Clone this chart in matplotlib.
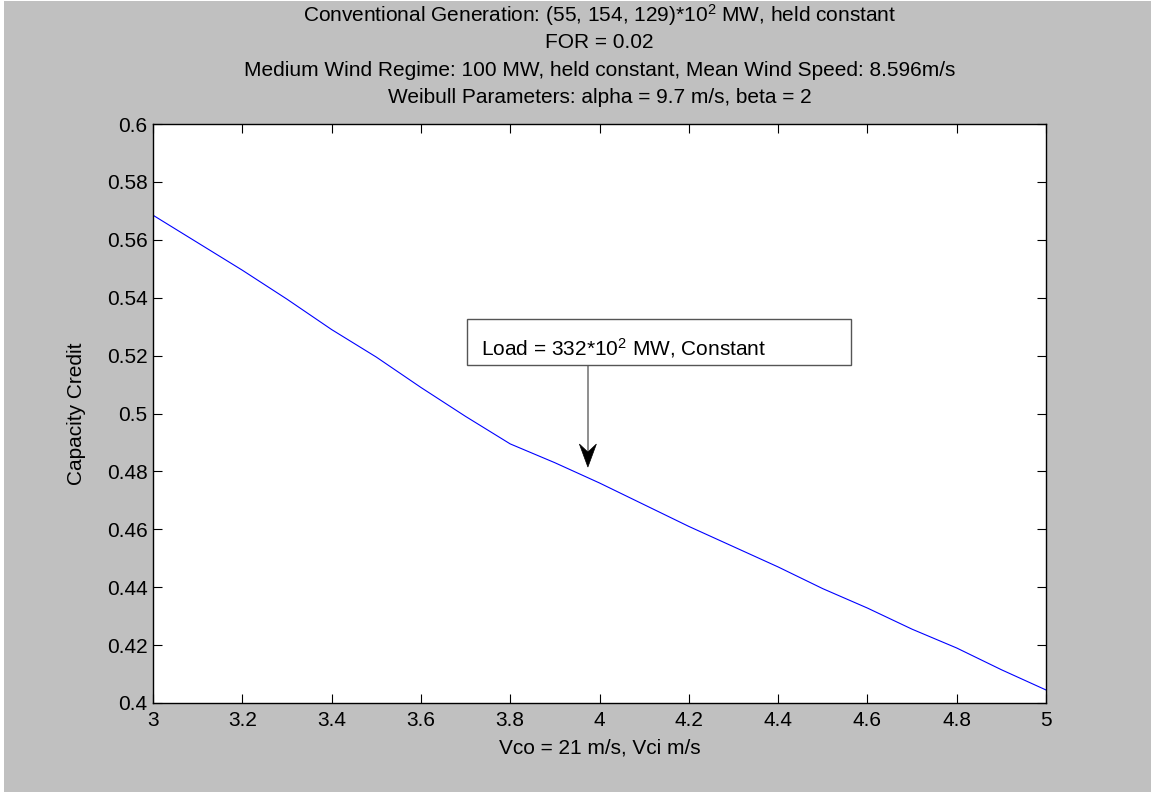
"""
Capacity credit vs cut-in wind speed (MATLAB-style figure).
"""

import matplotlib
matplotlib.use('Agg')

import matplotlib.pyplot as plt
import matplotlib.transforms as mtransforms
from matplotlib.patches import Rectangle, Polygon

plt.rcParams['font.family'] = ['Liberation Sans', 'DejaVu Sans']
plt.rcParams['mathtext.fontset'] = 'custom'
plt.rcParams['mathtext.rm'] = 'Liberation Sans'
plt.rcParams['mathtext.default'] = 'regular'

# --- data ---
vci = [3.0, 3.1, 3.2, 3.3, 3.4, 3.5, 3.6, 3.7, 3.8, 3.9, 4.0,
       4.1, 4.2, 4.3, 4.4, 4.5, 4.6, 4.7, 4.8, 4.9, 5.0]
capacity_credit = [0.5685, 0.5590, 0.5495, 0.5395, 0.5290, 0.5195, 0.5090,
                   0.4990, 0.4895, 0.4830, 0.4760, 0.4685, 0.4610, 0.4540,
                   0.4470, 0.4395, 0.4328, 0.4255, 0.4190, 0.4115, 0.4045]

x_ticks = [3, 3.2, 3.4, 3.6, 3.8, 4, 4.2, 4.4, 4.6, 4.8, 5]
x_ticklabels = ['3', '3.2', '3.4', '3.6', '3.8', '4', '4.2', '4.4', '4.6', '4.8', '5']
y_ticks = [0.4, 0.42, 0.44, 0.46, 0.48, 0.5, 0.52, 0.54, 0.56, 0.58, 0.6]
y_ticklabels = ['0.4', '0.42', '0.44', '0.46', '0.48', '0.5', '0.52', '0.54', '0.56', '0.58', '0.6']

title_lines = [
    'Conventional Generation: (55, 154, 129)*10$^2$ MW, held constant',
    'FOR = 0.02',
    'Medium Wind Regime: 100 MW, held constant, Mean Wind Speed: 8.596m/s',
    'Weibull Parameters: alpha = 9.7 m/s, beta = 2',
]
annot_text = 'Load = 332*10$^2$ MW, Constant'

# annotation placement (data units)
BOX_X0, BOX_X1 = 3.703, 4.563
BOX_Y0, BOX_Y1 = 0.5168, 0.5326
ARROW_X, ARROW_TIP_Y = 3.974, 0.4815

FS = 15
W, H = 1151, 792
fig = plt.figure(figsize=(W / 100, H / 100), dpi=100)
fig.patch.set_facecolor('white')
fig.patches.append(Rectangle((4 / W, 0), 1, 1 - 1 / H, transform=fig.transFigure,
                             facecolor='#c0c0c0', edgecolor='none', zorder=-10))

# axes box: left 153, right 1046, top 124, bottom 703 (pixels)
ax = fig.add_axes([153 / W, (H - 703) / H, (1046 - 153) / W, (703 - 124) / H])
ax.set_facecolor('white')

ax.plot(vci, capacity_credit, color='#0000ff', linewidth=0.8)

ax.set_xlim(3, 5)
ax.set_ylim(0.4, 0.6)
ax.set_xticks(x_ticks)
ax.set_xticklabels(x_ticklabels)
ax.set_yticks(y_ticks)
ax.set_yticklabels(y_ticklabels)
ax.tick_params(direction='in', length=6.5, width=0.8, labelsize=FS,
               top=True, right=True, pad=4)
ax.tick_params(axis='x', pad=6)
for sp in ax.spines.values():
    sp.set_linewidth(1.0)

ax.set_xlabel('Vco = 21 m/s, Vci m/s', fontsize=FS)
ax.xaxis.set_label_coords(0.5, (703 - 748) / 579)
ax.xaxis.label.set_va('center')
ax.set_ylabel('Capacity Credit', fontsize=FS)
ax.yaxis.set_label_coords((77 - 153) / 893, 0.5)
ax.yaxis.label.set_va('center')

# stacked title lines above the axes
for i, line in enumerate(title_lines):
    fig.text(599.5 / W, 1 - (15 + 27.6 * i) / H, line, ha='center', va='center',
             fontsize=FS)

# annotation: text box
ax.add_patch(Rectangle((BOX_X0, BOX_Y0), BOX_X1 - BOX_X0, BOX_Y1 - BOX_Y0,
                       facecolor='white', edgecolor='#555555', lw=1.0, zorder=5))
ax.text(3.734, 0.5226, annot_text, fontsize=FS, va='center', ha='left', zorder=6)

# arrow shaft (gray) and notched black head
ax.plot([ARROW_X, ARROW_X], [BOX_Y0, ARROW_TIP_Y + 0.004], color='#707070',
        lw=1.1, zorder=4, solid_capstyle='butt')
head = [(0, 0), (0.085, 0.23), (0, 0.15), (-0.085, 0.23)]  # inches
head_trans = fig.dpi_scale_trans + mtransforms.ScaledTranslation(
    ARROW_X, ARROW_TIP_Y, ax.transData)
ax.add_patch(Polygon(head, closed=True, facecolor='black', edgecolor='black',
                     lw=0.5, transform=head_trans, zorder=5))

fig.savefig('out.png', dpi=100, facecolor=fig.get_facecolor())
